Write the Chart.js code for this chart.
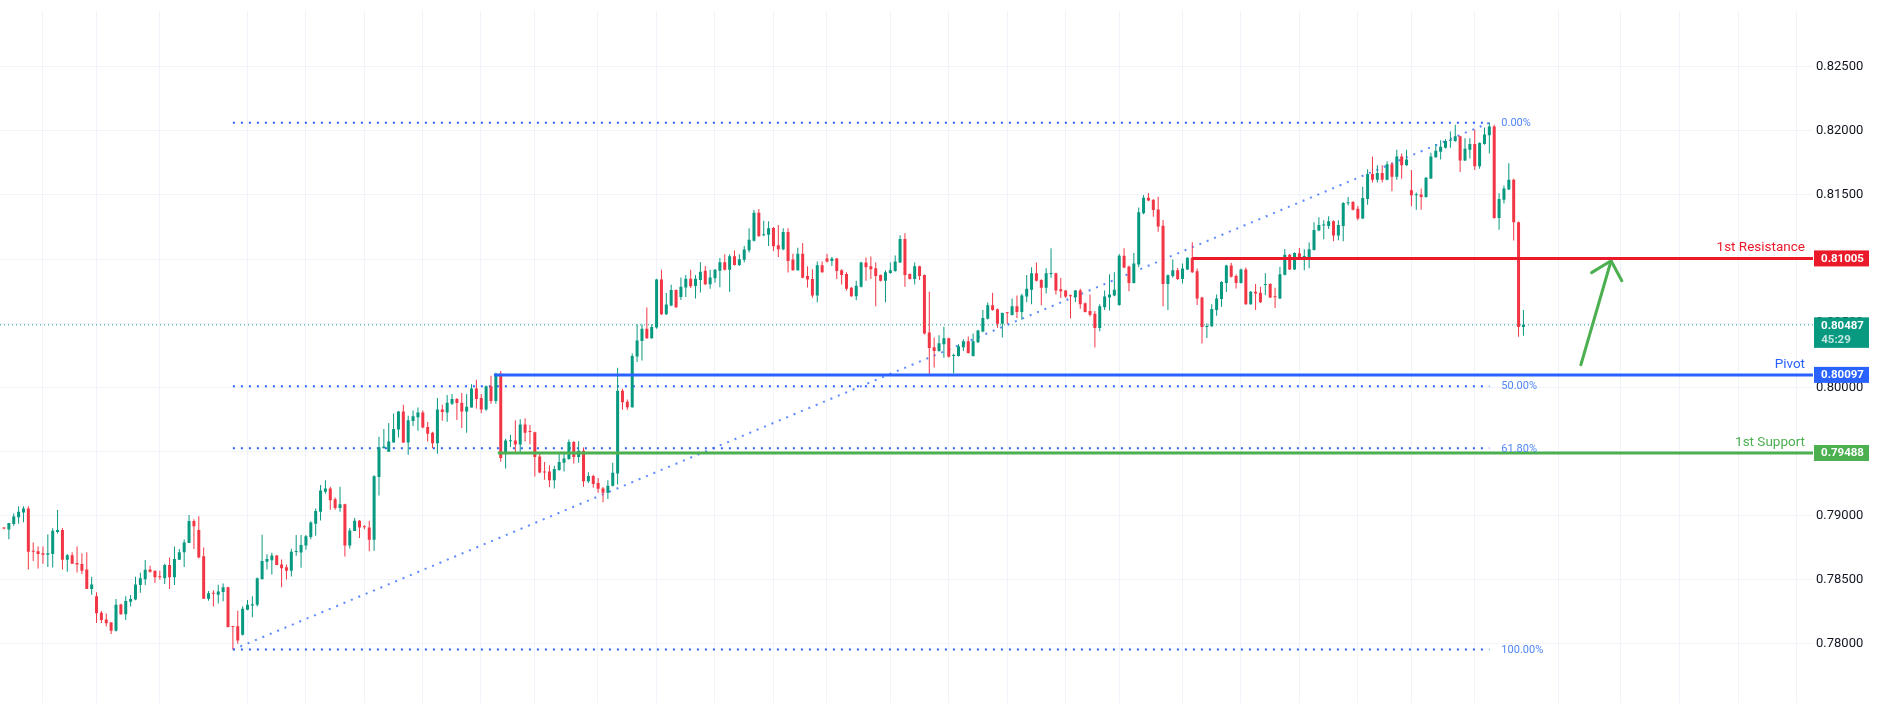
<!DOCTYPE html>
<html>
<head>
<meta charset="utf-8">
<script src="https://cdn.jsdelivr.net/npm/chart.js@4.4.1/dist/chart.umd.min.js"></script>
<style>
  html, body { margin: 0; padding: 0; background: #ffffff; }
  #wrap { width: 1883px; height: 714px; }
</style>
</head>
<body>
<div id="wrap"><canvas id="myChart" width="1883" height="714"></canvas></div>
<script>
// candle values, one entry per bar (index 0 = oldest)
const opens = [
  0.78904,0.78891,0.78934,0.78987,0.79025,0.79055,0.78722,0.78722,0.78706,0.78694,
  0.78701,0.78873,0.78888,0.78656,0.78691,0.78630,0.78623,0.78580,0.78428,0.78372,
  0.78243,0.78190,0.78167,0.78102,0.78307,0.78231,0.78329,0.78345,0.78458,0.78504,
  0.78580,0.78570,0.78524,0.78512,0.78615,0.78519,0.78656,0.78714,0.78787,0.78957,
  0.78888,0.78683,0.78352,0.78395,0.78382,0.78405,0.78441,0.78137,0.78137,0.78071,
  0.78266,0.78299,0.78304,0.78504,0.78641,0.78651,0.78688,0.78618,0.78598,0.78570,
  0.78716,0.78713,0.78766,0.78834,0.78937,0.79030,0.79186,0.79211,0.79128,0.79060,
  0.79088,0.78766,0.78879,0.78960,0.78914,0.78907,0.78811,0.79301,0.79525,0.79497,
  0.79570,0.79671,0.79811,0.79570,0.79737,0.79766,0.79804,0.79691,0.79646,0.79563,
  0.79827,0.79804,0.79872,0.79909,0.79879,0.79811,0.79842,0.79990,0.79917,0.79827,
  0.80008,0.79894,0.80106,0.79485,0.79580,0.79585,0.79555,0.79711,0.79656,0.79649,
  0.79461,0.79340,0.79343,0.79275,0.79355,0.79411,0.79441,0.79574,0.79456,0.79506,
  0.79267,0.79308,0.79255,0.79212,0.79179,0.79232,0.79328,0.79974,0.79888,0.79845,
  0.80240,0.80361,0.80456,0.80383,0.80466,0.80841,0.80569,0.80637,0.80758,0.80705,
  0.80778,0.80846,0.80790,0.80836,0.80908,0.80803,0.80851,0.80908,0.80976,0.80916,
  0.81021,0.80954,0.80994,0.81069,0.81142,0.81361,0.81185,0.81190,0.81243,0.81107,
  0.81077,0.81210,0.80997,0.80913,0.81042,0.80868,0.80845,0.80716,0.80951,0.81004,
  0.80984,0.81004,0.80913,0.80883,0.80777,0.80711,0.80784,0.80974,0.80943,0.80928,
  0.80875,0.80830,0.80891,0.80906,0.80974,0.81156,0.80883,0.80845,0.80943,0.80875,
  0.80427,0.80313,0.80283,0.80336,0.80382,0.80245,0.80245,0.80313,0.80359,0.80245,
  0.80351,0.80435,0.80534,0.80640,0.80609,0.80496,0.80582,0.80564,0.80632,0.80587,
  0.80708,0.80761,0.80890,0.80837,0.80777,0.80884,0.80889,0.80764,0.80754,0.80716,
  0.80703,0.80754,0.80656,0.80595,0.80573,0.80462,0.80625,0.80701,0.80716,0.80641,
  0.81025,0.80942,0.80814,0.80957,0.81357,0.81477,0.81462,0.81387,0.81259,0.80806,
  0.80867,0.80912,0.80844,0.80919,0.81010,0.80904,0.80701,0.80470,0.80477,0.80603,
  0.80688,0.80814,0.80950,0.80867,0.80814,0.80919,0.80648,0.80746,0.80738,0.80798,
  0.80806,0.80708,0.80693,0.80877,0.81033,0.80919,0.81046,0.81016,0.81014,0.81071,
  0.81222,0.81262,0.81257,0.81295,0.81184,0.81257,0.81436,0.81445,0.81393,0.81317,
  0.81468,0.81664,0.81619,0.81671,0.81619,0.81739,0.81641,0.81799,0.81732,0.81536,
  0.81498,0.81503,0.81483,0.81629,0.81794,0.81837,0.81867,0.81922,0.81920,0.81957,
  0.81769,0.81852,0.81897,0.81724,0.81897,0.81965,0.82033,0.81320,0.81463,0.81543,
  0.81619,0.81287,0.80470
];
const highs = [
  0.78909,0.78942,0.79017,0.79073,0.79073,0.79073,0.78790,0.78759,0.78759,0.78853,
  0.78901,0.79043,0.78904,0.78701,0.78714,0.78759,0.78706,0.78714,0.78524,0.78403,
  0.78256,0.78236,0.78170,0.78350,0.78312,0.78372,0.78380,0.78524,0.78555,0.78653,
  0.78608,0.78572,0.78570,0.78625,0.78673,0.78759,0.78739,0.78813,0.79005,0.78972,
  0.78995,0.78752,0.78413,0.78418,0.78461,0.78471,0.78446,0.78140,0.78259,0.78294,
  0.78342,0.78372,0.78517,0.78851,0.78699,0.78711,0.78692,0.78658,0.78618,0.78741,
  0.78849,0.78849,0.78849,0.78955,0.79055,0.79239,0.79276,0.79224,0.79141,0.79224,
  0.79093,0.78904,0.78982,0.78965,0.78924,0.78960,0.79314,0.79615,0.79676,0.79721,
  0.79796,0.79816,0.79864,0.79779,0.79819,0.79842,0.79819,0.79729,0.79653,0.79917,
  0.79864,0.79940,0.79947,0.79917,0.79955,0.79947,0.80023,0.80060,0.79947,0.80015,
  0.80090,0.80113,0.80128,0.79600,0.79631,0.79744,0.79751,0.79759,0.79707,0.79654,
  0.79481,0.79418,0.79393,0.79388,0.79494,0.79494,0.79594,0.79582,0.79579,0.79531,
  0.79338,0.79318,0.79293,0.79222,0.79275,0.79411,0.80152,0.79989,0.79906,0.80263,
  0.80491,0.80491,0.80622,0.80491,0.80846,0.80916,0.80735,0.80800,0.80763,0.80856,
  0.80876,0.80916,0.80876,0.80976,0.80946,0.80916,0.80923,0.81009,0.81037,0.81037,
  0.81067,0.81037,0.81102,0.81240,0.81383,0.81391,0.81298,0.81295,0.81250,0.81265,
  0.81240,0.81240,0.81042,0.81088,0.81126,0.80943,0.80921,0.80981,0.80981,0.81042,
  0.81017,0.81009,0.80921,0.80898,0.80782,0.80830,0.80979,0.81012,0.81019,0.80974,
  0.80880,0.80913,0.80974,0.81027,0.81186,0.81202,0.80888,0.80974,0.80948,0.80880,
  0.80746,0.80389,0.80405,0.80473,0.80387,0.80261,0.80336,0.80374,0.80397,0.80420,
  0.80448,0.80602,0.80662,0.80738,0.80614,0.80584,0.80587,0.80692,0.80716,0.80730,
  0.80875,0.80936,0.80974,0.80842,0.80928,0.81085,0.80894,0.80852,0.80759,0.80723,
  0.80759,0.80769,0.80661,0.80723,0.80595,0.80648,0.80754,0.80882,0.80897,0.81040,
  0.81085,0.80947,0.81048,0.81402,0.81500,0.81515,0.81467,0.81485,0.81304,0.80879,
  0.80997,0.80930,0.80965,0.81015,0.81132,0.80927,0.80706,0.80497,0.80648,0.80723,
  0.80826,0.80955,0.80972,0.80882,0.80927,0.80934,0.80751,0.80806,0.80784,0.80889,
  0.80811,0.80776,0.80940,0.81078,0.81040,0.81053,0.81086,0.81076,0.81129,0.81287,
  0.81325,0.81302,0.81333,0.81302,0.81302,0.81443,0.81483,0.81453,0.81415,0.81563,
  0.81701,0.81799,0.81732,0.81732,0.81762,0.81752,0.81852,0.81822,0.81852,0.81694,
  0.81518,0.81551,0.81639,0.81829,0.81897,0.81927,0.81935,0.81995,0.82048,0.81962,
  0.81942,0.81942,0.82010,0.81910,0.82025,0.82063,0.82048,0.81513,0.81573,0.81747,
  0.81626,0.81292,0.80602
];
const lows = [
  0.78894,0.78815,0.78921,0.78937,0.78949,0.78580,0.78646,0.78587,0.78625,0.78600,
  0.78595,0.78861,0.78580,0.78562,0.78625,0.78557,0.78544,0.78428,0.78382,0.78162,
  0.78162,0.78135,0.78076,0.78097,0.78226,0.78185,0.78291,0.78340,0.78398,0.78458,
  0.78555,0.78474,0.78499,0.78466,0.78428,0.78458,0.78656,0.78600,0.78787,0.78739,
  0.78668,0.78350,0.78337,0.78291,0.78314,0.78332,0.78127,0.77955,0.78000,0.78066,
  0.78261,0.78208,0.78291,0.78504,0.78580,0.78540,0.78612,0.78442,0.78502,0.78525,
  0.78686,0.78593,0.78734,0.78816,0.78842,0.78962,0.79171,0.79045,0.79045,0.79030,
  0.78681,0.78743,0.78879,0.78826,0.78894,0.78721,0.78726,0.79156,0.79525,0.79497,
  0.79570,0.79608,0.79565,0.79475,0.79698,0.79661,0.79681,0.79578,0.79525,0.79482,
  0.79739,0.79731,0.79862,0.79746,0.79683,0.79646,0.79842,0.79834,0.79797,0.79817,
  0.79872,0.79872,0.79419,0.79367,0.79535,0.79487,0.79487,0.79578,0.79556,0.79305,
  0.79330,0.79280,0.79222,0.79212,0.79350,0.79343,0.79436,0.79406,0.79411,0.79224,
  0.79255,0.79217,0.79179,0.79104,0.79129,0.79227,0.79242,0.79825,0.79825,0.79840,
  0.80197,0.80210,0.80378,0.80378,0.80456,0.80564,0.80564,0.80632,0.80619,0.80680,
  0.80705,0.80775,0.80692,0.80739,0.80798,0.80768,0.80815,0.80780,0.80911,0.80745,
  0.80949,0.80946,0.80976,0.81052,0.81137,0.81172,0.81177,0.81102,0.81062,0.81016,
  0.81069,0.80896,0.80908,0.80908,0.80850,0.80779,0.80698,0.80663,0.80893,0.80974,
  0.80946,0.80845,0.80802,0.80754,0.80706,0.80678,0.80779,0.80830,0.80845,0.80632,
  0.80825,0.80663,0.80886,0.80901,0.80969,0.80784,0.80840,0.80802,0.80837,0.80412,
  0.80096,0.80154,0.80278,0.80230,0.80233,0.80109,0.80240,0.80283,0.80263,0.80240,
  0.80346,0.80430,0.80529,0.80597,0.80465,0.80389,0.80496,0.80559,0.80541,0.80526,
  0.80663,0.80647,0.80825,0.80640,0.80731,0.80854,0.80723,0.80696,0.80696,0.80537,
  0.80666,0.80613,0.80583,0.80553,0.80311,0.80437,0.80603,0.80598,0.80711,0.80636,
  0.80929,0.80749,0.80809,0.80937,0.81349,0.81450,0.81329,0.81213,0.80633,0.80603,
  0.80854,0.80837,0.80809,0.80914,0.80892,0.80641,0.80341,0.80384,0.80472,0.80558,
  0.80628,0.80744,0.80857,0.80771,0.80809,0.80643,0.80643,0.80603,0.80658,0.80718,
  0.80696,0.80618,0.80688,0.80872,0.80914,0.80914,0.81006,0.80913,0.80928,0.81066,
  0.81217,0.81154,0.81234,0.81139,0.81146,0.81139,0.81418,0.81378,0.81302,0.81312,
  0.81423,0.81596,0.81596,0.81596,0.81614,0.81528,0.81619,0.81626,0.81727,0.81411,
  0.81385,0.81385,0.81478,0.81624,0.81789,0.81777,0.81862,0.81867,0.81915,0.81679,
  0.81764,0.81784,0.81694,0.81704,0.81892,0.81822,0.81315,0.81229,0.81433,0.81538,
  0.81144,0.80394,0.80402
];
const closes = [
  0.78899,0.78942,0.78992,0.79030,0.79055,0.78719,0.78719,0.78701,0.78694,0.78706,
  0.78881,0.78888,0.78656,0.78691,0.78625,0.78618,0.78570,0.78428,0.78463,0.78238,
  0.78185,0.78160,0.78102,0.78304,0.78231,0.78334,0.78350,0.78463,0.78512,0.78577,
  0.78562,0.78519,0.78520,0.78615,0.78519,0.78661,0.78714,0.78790,0.78957,0.78916,
  0.78673,0.78352,0.78395,0.78390,0.78408,0.78441,0.78132,0.78132,0.78026,0.78274,
  0.78304,0.78309,0.78512,0.78646,0.78661,0.78688,0.78615,0.78590,0.78570,0.78718,
  0.78720,0.78771,0.78839,0.78947,0.79035,0.79196,0.79211,0.79120,0.79060,0.79088,
  0.78766,0.78884,0.78960,0.78907,0.78910,0.78811,0.79306,0.79532,0.79538,0.79578,
  0.79676,0.79811,0.79570,0.79744,0.79774,0.79804,0.79686,0.79638,0.79563,0.79827,
  0.79807,0.79879,0.79909,0.79877,0.79811,0.79849,0.79990,0.79909,0.79827,0.80008,
  0.79894,0.80106,0.79448,0.79585,0.79585,0.79555,0.79711,0.79646,0.79652,0.79456,
  0.79335,0.79336,0.79275,0.79363,0.79418,0.79446,0.79574,0.79456,0.79506,0.79267,
  0.79308,0.79247,0.79210,0.79179,0.79232,0.79333,0.79974,0.79883,0.79845,0.80245,
  0.80366,0.80456,0.80383,0.80471,0.80841,0.80569,0.80645,0.80758,0.80624,0.80785,
  0.80846,0.80788,0.80846,0.80901,0.80803,0.80856,0.80916,0.80976,0.80916,0.81021,
  0.80954,0.80999,0.81074,0.81150,0.81361,0.81180,0.81192,0.81240,0.81099,0.81077,
  0.81210,0.80984,0.80913,0.81042,0.80855,0.80840,0.80716,0.80951,0.80898,0.80981,
  0.81004,0.80906,0.80875,0.80769,0.80711,0.80792,0.80974,0.80936,0.80921,0.80868,
  0.80830,0.80898,0.80913,0.80981,0.81156,0.80875,0.80845,0.80943,0.80868,0.80420,
  0.80306,0.80283,0.80344,0.80382,0.80238,0.80250,0.80321,0.80359,0.80268,0.80359,
  0.80443,0.80541,0.80640,0.80602,0.80496,0.80579,0.80577,0.80632,0.80587,0.80716,
  0.80769,0.80890,0.80830,0.80777,0.80890,0.80890,0.80754,0.80749,0.80708,0.80711,
  0.80754,0.80648,0.80588,0.80565,0.80462,0.80633,0.80708,0.80723,0.80761,0.81025,
  0.80934,0.80814,0.80965,0.81364,0.81477,0.81457,0.81382,0.81254,0.80806,0.80874,
  0.80912,0.80844,0.80927,0.81010,0.80897,0.80693,0.80470,0.80477,0.80610,0.80693,
  0.80821,0.80950,0.80862,0.80814,0.80919,0.80648,0.80746,0.80731,0.80663,0.80803,
  0.80701,0.80703,0.80882,0.81033,0.80919,0.81048,0.81016,0.81024,0.81076,0.81227,
  0.81265,0.81267,0.81295,0.81184,0.81265,0.81438,0.81442,0.81385,0.81317,0.81476,
  0.81664,0.81619,0.81671,0.81619,0.81739,0.81641,0.81799,0.81732,0.81777,0.81498,
  0.81505,0.81483,0.81634,0.81799,0.81844,0.81875,0.81920,0.81927,0.81957,0.81769,
  0.81860,0.81897,0.81724,0.81905,0.81972,0.82033,0.81320,0.81468,0.81551,0.81619,
  0.81287,0.80470,0.80487
];

// price axis tick labels
const yTicks = [0.780, 0.785, 0.790, 0.795, 0.800, 0.805, 0.810, 0.815, 0.820, 0.825];

// horizontal levels drawn on the chart
const levelNames = ['1st Resistance', 'Pivot', '1st Support'];
const levelPrices = [0.81005, 0.80097, 0.79488];
const levelStart = [244, 100.6, 101.4];
const levelColors = ['#eb1a2b', '#2962ff', '#4caf50'];

// fibonacci retracement (from the low bar to the high bar)
const fibLowIdx = 47, fibLowPrice = 0.77955;
const fibHighIdx = 305, fibHighPrice = 0.82063;
const fibLevels = [0, 0.5, 0.618, 1];

// arrow (bar index, price)
const arrowShaft = [[323.8, 0.80176], [330.0, 0.80987]];
const arrowHead = [[326.0, 0.80894], [330.0, 0.80987], [332.2, 0.80831]];

const countdown = '45:29';

// vertical time grid, in bar index units
const timeGrid = [7.86, 18.95, 31.9, 49.96, 61.87, 73.98, 85.9, 97.8, 108.9, 121.8, 133.9, 145.9,
  157.97, 168.9, 182.0, 194.0, 206.0, 217.9, 229.0, 241.95, 253.9, 266.0, 277.9, 289.0, 301.9,
  319.2, 331.9, 344.0, 356.1, 368.0];

const UP = '#089981';
const DOWN = '#f23645';
const FONT = 'Roboto, "Liberation Sans", sans-serif';

const candleColors = closes.map((c, i) => c >= opens[i] ? UP : DOWN);
const lastClose = closes[closes.length - 1];
const lastIdx = closes.length - 1;
const xMin = -0.82, xMax = 371.46;

const toPts = (arr) => arr.map((p) => ({ x: p[0], y: p[1] }));

const fibPrice = (lv) => fibHighPrice - lv * (fibHighPrice - fibLowPrice);

const datasets = [];

// candle bodies
datasets.push({
  type: 'bar',
  data: opens.map((o, i) => ({ x: i, y: [o, closes[i]] })),
  backgroundColor: candleColors,
  grouped: false,
  maxBarThickness: 3,
  minBarLength: 1,
  borderWidth: 0,
  order: 1
});
// wicks
datasets.push({
  type: 'bar',
  data: lows.map((l, i) => ({ x: i, y: [l, highs[i]] })),
  backgroundColor: candleColors,
  grouped: false,
  maxBarThickness: 1,
  minBarLength: 1,
  borderWidth: 0,
  order: 2
});

// fib levels (dotted)
fibLevels.forEach((lv) => {
  datasets.push({
    type: 'line',
    data: [{ x: fibLowIdx, y: fibPrice(lv) }, { x: fibHighIdx, y: fibPrice(lv) }],
    borderColor: '#2962ff',
    borderWidth: 2,
    borderDash: [2, 6],
    pointRadius: 0,
    order: 3
  });
});
// fib trend line
datasets.push({
  type: 'line',
  data: [{ x: fibLowIdx, y: fibLowPrice }, { x: fibHighIdx, y: fibHighPrice }],
  borderColor: 'rgba(41,98,255,0.75)',
  borderWidth: 2,
  borderDash: [2, 6],
  pointRadius: 0,
  order: 3
});

// current price line
datasets.push({
  type: 'line',
  data: [{ x: xMin, y: lastClose }, { x: xMax, y: lastClose }],
  borderColor: UP,
  borderWidth: 1,
  borderDash: [1, 3],
  pointRadius: 0,
  order: 4
});

// support / resistance levels
levelPrices.forEach((p, k) => {
  datasets.push({
    type: 'line',
    data: [{ x: levelStart[k], y: p }, { x: xMax, y: p }],
    borderColor: levelColors[k],
    borderWidth: 3,
    pointRadius: 0,
    order: 0
  });
});

// green arrow
datasets.push({
  type: 'line',
  data: toPts(arrowShaft),
  borderColor: '#4caf50',
  borderWidth: 3,
  borderCapStyle: 'round',
  pointRadius: 0,
  order: 0
});
datasets.push({
  type: 'line',
  data: toPts(arrowHead),
  borderColor: '#4caf50',
  borderWidth: 3,
  borderCapStyle: 'round',
  borderJoinStyle: 'round',
  pointRadius: 0,
  order: 0
});

const overlays = {
  id: 'overlays',
  afterDatasetsDraw(chart) {
    const { ctx, chartArea, scales: { x, y } } = chart;
    ctx.save();

    // fib labels
    ctx.font = '11px ' + FONT;
    ctx.textAlign = 'left';
    ctx.textBaseline = 'middle';
    ctx.fillStyle = '#4f86f7';
    fibLevels.forEach((lv) => {
      ctx.fillText((lv * 100).toFixed(2) + '%', x.getPixelForValue(fibHighIdx) + 12, y.getPixelForValue(fibPrice(lv)) + 0.5);
    });

    // level names
    ctx.font = '13.5px ' + FONT;
    ctx.textAlign = 'right';
    ctx.textBaseline = 'alphabetic';
    levelPrices.forEach((p, k) => {
      ctx.fillStyle = levelColors[k];
      ctx.fillText(levelNames[k], chartArea.right - 8, y.getPixelForValue(p) - 7);
    });
    ctx.restore();
  },
  afterDraw(chart) {
    const { ctx, chartArea, scales: { y } } = chart;
    const bx = chartArea.right + 1;
    const bw = 55;
    ctx.save();
    ctx.textAlign = 'center';
    ctx.textBaseline = 'middle';

    // current price box
    const py = y.getPixelForValue(lastClose);
    ctx.fillStyle = UP;
    ctx.fillRect(bx, py - 7.5, bw, 30.5);
    ctx.font = 'bold 11.5px ' + FONT;
    ctx.fillStyle = '#ffffff';
    ctx.fillText(lastClose.toFixed(5), bx + bw / 2 + 1, py + 1);
    ctx.fillStyle = 'rgba(255,255,255,0.75)';
    ctx.fillText(countdown, bx + 22, py + 15);

    // level boxes
    levelPrices.forEach((p, k) => {
      const ly = y.getPixelForValue(p);
      ctx.fillStyle = levelColors[k];
      ctx.fillRect(bx, ly - 8, bw, 16);
      ctx.fillStyle = '#ffffff';
      ctx.fillText(p.toFixed(5), bx + bw / 2 + 1, ly + 0.5);
    });
    ctx.restore();
  }
};

const ctx = document.getElementById('myChart').getContext('2d');
const myChart = new Chart(ctx, {
  type: 'bar',
  data: { datasets: datasets },
  options: {
    responsive: false,
    animation: false,
    devicePixelRatio: 1,
    layout: { padding: 0 },
    plugins: {
      legend: { display: false },
      tooltip: { enabled: false }
    },
    scales: {
      x: {
        type: 'linear',
        min: xMin,
        max: xMax,
        offset: false,
        afterBuildTicks: (scale) => {
          scale.ticks = timeGrid.map((v) => ({ value: v }));
        },
        afterFit: (scale) => {
          scale.height = 0;
        },
        ticks: { display: false },
        grid: { offset: false, color: '#f0f3fa', drawTicks: false },
        border: { display: false }
      },
      y: {
        position: 'right',
        min: 0.775373,
        max: 0.829355,
        afterBuildTicks: (scale) => {
          scale.ticks = yTicks.map((v) => ({ value: v }));
        },
        afterFit: (scale) => {
          scale.width = 70;
        },
        ticks: {
          padding: 3,
          color: '#131722',
          font: { family: FONT, size: 13 },
          callback: (v) => Number(v).toFixed(5)
        },
        grid: { color: '#f0f3fa', drawTicks: false },
        border: { display: false }
      }
    }
  },
  plugins: [overlays]
});
</script>
</body>
</html>
